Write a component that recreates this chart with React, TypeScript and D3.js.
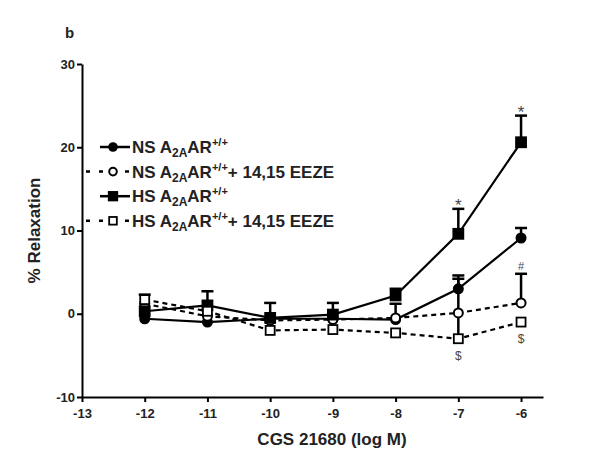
import React, { useRef, useEffect } from 'react'
import * as d3 from 'd3'

const doses = [-12, -11, -10, -9, -8, -7, -6]
const nsMean = [-0.6, -1.0, -0.6, -0.6, -0.7, 3.0, 9.1]
const nsErr = [0, 0, 0, 0, 0, 1.6, 1.2]
const nsEezeMean = [1.2, -0.3, -0.8, -0.7, -0.5, 0.1, 1.3]
const nsEezeErr = [0, 0, 0, 0, 1.7, 4.1, 3.5]
const hsMean = [0.3, 1.0, -0.5, -0.1, 2.2, 9.6, 20.6]
const hsErr = [0, 1.7, 1.8, 1.4, 0.8, 3.0, 3.2]
const hsEezeMean = [1.7, 0.3, -2.0, -1.9, -2.3, -3.0, -1.0]
const hsEezeErr = [0.6, 0, 0, 0, 0, 0, 0]

const yTicks = [-10, 0, 10, 20, 30]
const xTicks = [-13, -12, -11, -10, -9, -8, -7, -6]

const seriesNames = ['NS', 'NS', 'HS', 'HS']
const seriesEeze = [false, true, false, true]

const font = 'Liberation Sans, Arial, sans-serif'

export default function App() {
  const ref = useRef(null)

  useEffect(() => {
    const svg = d3.select(ref.current)
    svg.selectAll('*').remove()

    const x = d3.scaleLinear().domain([-13, -5.65]).range([82, 543])
    const y = d3.scaleLinear().domain([-10, 30]).range([397, 64])

    const series = [
      { mean: nsMean, err: nsErr, shape: 'circle', fill: '#000', dash: null },
      { mean: nsEezeMean, err: nsEezeErr, shape: 'circle', fill: '#fff', dash: '5,4' },
      { mean: hsMean, err: hsErr, shape: 'square', fill: '#000', dash: null },
      { mean: hsEezeMean, err: hsEezeErr, shape: 'square', fill: '#fff', dash: '5,4' },
    ]

    // axes
    const xAxis = svg.append('g')
      .attr('transform', 'translate(0,' + y(-10) + ')')
      .call(d3.axisBottom(x).tickValues(xTicks).tickSize(5).tickSizeOuter(0).tickFormat(d => String(d)))
    xAxis.select('.domain').attr('stroke-width', 2)
    xAxis.selectAll('line').attr('stroke-width', 2)
    xAxis.selectAll('text')
      .attr('font-family', font).attr('font-weight', 'bold').attr('font-size', 13)
      .attr('dy', '1.0em').attr('fill', '#222')

    const yAxis = svg.append('g')
      .attr('transform', 'translate(' + x(-13) + ',0)')
      .call(d3.axisLeft(y).tickValues(yTicks).tickSize(5).tickSizeOuter(0).tickFormat(d => String(d)))
    yAxis.select('.domain').attr('stroke-width', 2)
    yAxis.selectAll('line').attr('stroke-width', 2)
    yAxis.selectAll('text')
      .attr('font-family', font).attr('font-weight', 'bold').attr('font-size', 13)
      .attr('x', -7).attr('fill', '#222')

    // axis titles
    svg.append('text')
      .attr('transform', 'translate(40,' + y(10) + ') rotate(-90)')
      .attr('text-anchor', 'middle')
      .attr('font-family', font).attr('font-weight', 'bold').attr('font-size', 17)
      .attr('fill', '#222')
      .text('% Relaxation')

    svg.append('text')
      .attr('x', 332).attr('y', 445)
      .attr('text-anchor', 'middle')
      .attr('font-family', font).attr('font-weight', 'bold').attr('font-size', 17)
      .attr('fill', '#222')
      .text('CGS 21680 (log M)')

    svg.append('text')
      .attr('x', 65).attr('y', 38)
      .attr('font-family', font).attr('font-weight', 'bold').attr('font-size', 15)
      .attr('fill', '#222')
      .text('b')

    const line = d3.line().x(d => x(d[0])).y(d => y(d[1])).curve(d3.curveLinear)

    const drawMarker = (g, s, cx, cy, scale = 1) => {
      if (s.shape === 'circle') {
        g.append('circle').attr('cx', cx).attr('cy', cy).attr('r', 4.5 * scale)
          .attr('fill', s.fill).attr('stroke', '#000').attr('stroke-width', 2)
      } else {
        const sz = (s.fill === '#000' ? 10 : 9) * scale
        g.append('rect').attr('x', cx - sz / 2).attr('y', cy - sz / 2).attr('width', sz).attr('height', sz)
          .attr('fill', s.fill).attr('stroke', '#000').attr('stroke-width', 1.8)
      }
    }

    // error bars
    series.forEach(s => {
      const g = svg.append('g')
      doses.forEach((d, i) => {
        if (!s.err[i]) return
        const top = y(s.mean[i] + s.err[i])
        g.append('line').attr('x1', x(d)).attr('x2', x(d))
          .attr('y1', y(s.mean[i])).attr('y2', top)
          .attr('stroke', '#000').attr('stroke-width', 2.5)
        g.append('line').attr('x1', x(d) - 6).attr('x2', x(d) + 6)
          .attr('y1', top).attr('y2', top)
          .attr('stroke', '#000').attr('stroke-width', 2.5)
      })
    })
    // HS + EEZE at -7 has a long bar down through the open square
    svg.append('line').attr('x1', x(-7)).attr('x2', x(-7))
      .attr('y1', y(hsEezeMean[5])).attr('y2', y(nsEezeMean[5]))
      .attr('stroke', '#000').attr('stroke-width', 2.5)

    // lines
    series.forEach(s => {
      svg.append('path')
        .datum(doses.map((d, i) => [d, s.mean[i]]))
        .attr('d', line)
        .attr('fill', 'none')
        .attr('stroke', '#000')
        .attr('stroke-width', 2.2)
        .attr('stroke-dasharray', s.dash)
    })

    // markers
    series.forEach(s => {
      const g = svg.append('g')
      doses.forEach((d, i) => drawMarker(g, s, x(d), y(s.mean[i])))
    })

    // significance marks
    const mark = (txt, dx, vy, off, size) => {
      svg.append('text')
        .attr('x', x(dx)).attr('y', y(vy) + off)
        .attr('text-anchor', 'middle')
        .attr('font-family', font).attr('font-size', size)
        .attr('fill', '#444')
        .text(txt)
    }
    mark('*', -7, hsMean[5] + hsErr[5], 2, 17)
    mark('*', -6, hsMean[6] + hsErr[6], 2, 17)
    mark('#', -6, nsEezeMean[6] + nsEezeErr[6], -4, 11)
    mark('$', -7, hsEezeMean[5], 21, 12)
    mark('$', -6, hsEezeMean[6], 21, 12)

    // legend
    const legend = svg.append('g')
    series.forEach((s, i) => {
      const ly = 147 + i * 24.6
      const g = legend.append('g')
      g.append('line')
        .attr('x1', s.dash ? 86 : 100).attr('x2', 130)
        .attr('y1', ly).attr('y2', ly)
        .attr('stroke', '#000').attr('stroke-width', 2.5)
        .attr('stroke-dasharray', s.dash ? '4,9' : null)
      drawMarker(g, s, 113, ly, 0.85)
      const t = g.append('text')
        .attr('x', 132).attr('y', ly + 6)
        .attr('font-family', font).attr('font-weight', 'bold').attr('font-size', 17)
        .attr('fill', '#222')
      t.append('tspan').text(seriesNames[i] + ' A')
      t.append('tspan').attr('font-size', 12).attr('dy', 4).text('2A')
      t.append('tspan').attr('dy', -4).text('AR')
      t.append('tspan').attr('font-size', 11).attr('dy', -7).text('+/+')
      t.append('tspan').attr('dy', 7).text(seriesEeze[i] ? '+ 14,15 EEZE' : '')
    })
  }, [])

  return (
    <svg
      ref={ref}
      width={600}
      height={465}
      style={{ position: 'absolute', left: 0, top: 0, background: '#fff' }}
    />
  )
}
